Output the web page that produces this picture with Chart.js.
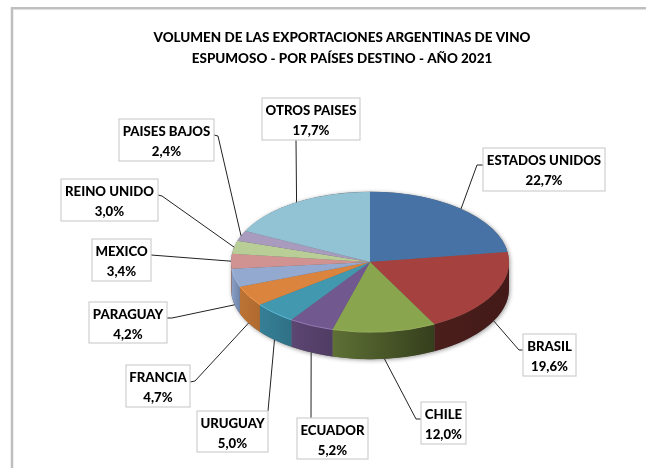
<!DOCTYPE html>
<html>
<head>
<meta charset="utf-8">
<style>html,body{margin:0;padding:0;background:#fff}canvas{display:block}</style>
<script src="https://cdn.jsdelivr.net/npm/chart.js@4"></script>
</head>
<body>
<canvas id="c" width="646" height="468"></canvas>
<script>
const categories = ['ESTADOS UNIDOS','BRASIL','CHILE','ECUADOR','URUGUAY','FRANCIA','PARAGUAY','MEXICO','REINO UNIDO','PAISES BAJOS','OTROS PAISES'];
const shares = [22.7,19.6,12.0,5.2,5.0,4.7,4.2,3.4,3.0,2.4,17.7];
const titleLines = ['VOLUMEN DE LAS EXPORTACIONES ARGENTINAS DE VINO','ESPUMOSO - POR PAÍSES DESTINO - AÑO 2021'];

const faceColors = ['#4672a6','#a5413f','#89a54e','#71588f','#4198af','#db843d','#93a9cf','#d19392','#b9cd96','#a99bbd','#92c3d5'];
const wallLeft   = ['#3a5f8a','#4a1e1b','#5e7035','#5c4672','#367f97','#bc7335','#8aa0c6','#b57f7e','#b9cd96','#a99bbd','#92c3d5'];
const wallRight  = ['#3a5f8a','#431a18','#353f1c','#4f3c64','#2f7186','#b06a2e','#6f84a8','#a87473','#b9cd96','#a99bbd','#92c3d5'];
const rimColors  = [null,null,'#9db45c','#a080c0','#62c6e4','#ff9e50','#a9bfe6',null,null,null,null];
// label boxes: [x, y, w, h]; leader start [x,y] on the box and elbow [x,y]
const boxes = [[483,148,122,43],[523,334,53,42],[421,402,45,42],[297,418,71,41],[197,411,71,41],[126,365,64,42],[89,302,78,41],[92,239,59,42],[61,179,97,42],[119,119,95,42],[262,98,98,42]];
const leaderStarts = [[483,165],[523,350],[421,419],[311,418],[268,411],[190,382],[167,318],[151,255],[158,195],[214,135],[296,140]];
const leaderElbows = [[477,165],[519,350],[416,419],null,null,[195,381],[172,318],null,[162,196],[218,136],null];

const squash = 0.505, depth = 27, titleCenter = 342;
const ff = 'Lato, "Open Sans", sans-serif';

const pie3d = {
  id:'pie3d',
  afterLayout(chart){
    const t = chart.titleBlock;
    t.left = titleCenter - 300; t.right = titleCenter + 300;
  },
  beforeDraw(chart){
    const c = chart.ctx;
    c.save();
    c.strokeStyle = '#bfbfbf'; c.lineWidth = 2.5;
    c.beginPath(); c.moveTo(646,8.2); c.lineTo(12,8.2); c.lineTo(12,468); c.stroke();
    c.restore();
  },
  beforeDatasetsDraw(chart){
    const c = chart.ctx, arcs = chart.getDatasetMeta(0).data;
    const a0 = arcs[0], x = a0.x, y = a0.y, r = a0.outerRadius, ry = r*squash;
    // soft shadow under the body
    c.save();
    c.shadowColor = 'rgba(0,0,0,0.4)'; c.shadowBlur = 4; c.shadowOffsetX = 1; c.shadowOffsetY = 1;
    c.fillStyle = '#666';
    c.beginPath();
    c.ellipse(x,y,r,ry,0,Math.PI,0,false);
    c.ellipse(x,y+depth,r,ry,0,0,Math.PI,false);
    c.closePath(); c.fill();
    c.restore();
    // side walls on the front half
    arcs.forEach((arc,i)=>{
      const s = Math.max(arc.startAngle,0), e = Math.min(arc.endAngle,Math.PI);
      if (e <= s) return;
      const g = c.createLinearGradient(x+r*Math.cos(s),0,x+r*Math.cos(e),0);
      g.addColorStop(0,wallRight[i]); g.addColorStop(1,wallLeft[i]);
      c.fillStyle = g;
      c.beginPath();
      c.ellipse(x,y,r,ry,0,s,e,false);
      c.ellipse(x,y+depth,r,ry,0,e,s,true);
      c.closePath(); c.fill();
    });
    c.save();
    c.translate(x,y); c.scale(1,squash); c.translate(-x,-y);
  },
  afterDatasetsDraw(chart){
    const c = chart.ctx, arcs = chart.getDatasetMeta(0).data;
    c.restore();
    const a0 = arcs[0], x = a0.x, y = a0.y, r = a0.outerRadius, ry = r*squash;
    // light edge on the front rim
    arcs.forEach((arc,i)=>{
      if (!rimColors[i]) return;
      const s = Math.max(arc.startAngle,0), e = Math.min(arc.endAngle,Math.PI);
      if (e <= s) return;
      c.save();
      c.strokeStyle = rimColors[i]; c.lineWidth = 1; c.globalAlpha = 0.8;
      c.beginPath(); c.ellipse(x,y,r,ry,0,s,e,false); c.stroke();
      c.restore();
    });
    // leaders
    c.save();
    c.strokeStyle = '#222'; c.lineWidth = 1;
    arcs.forEach((arc,i)=>{
      const m = (arc.startAngle+arc.endAngle)/2;
      const px = x + r*Math.cos(m);
      const py = y + ry*Math.sin(m) + (Math.sin(m) > 0.02 ? depth : 0);
      c.beginPath();
      c.moveTo(leaderStarts[i][0],leaderStarts[i][1]);
      if (leaderElbows[i]) c.lineTo(leaderElbows[i][0],leaderElbows[i][1]);
      c.lineTo(px,py); c.stroke();
    });
    c.restore();
    // label boxes
    c.save();
    c.textAlign = 'center'; c.textBaseline = 'middle';
    categories.forEach((name,i)=>{
      const b = boxes[i];
      c.fillStyle = '#fff'; c.fillRect(b[0],b[1],b[2],b[3]);
      c.strokeStyle = '#cfcfcf'; c.lineWidth = 1.2; c.strokeRect(b[0],b[1],b[2],b[3]);
      c.fillStyle = '#000';
      c.font = '900 13.2px '+ff;
      const cx = b[0]+b[2]/2;
      c.fillText(name,cx,b[1]+13);
      c.fillText(shares[i].toFixed(1).replace('.',',')+'%',cx,b[1]+33);
    });
    c.restore();
  }
};

new Chart(document.getElementById('c'),{
  type:'pie',
  data:{labels:categories,datasets:[{data:shares,backgroundColor:faceColors,borderWidth:0,clip:false}]},
  options:{
    responsive:false,animation:false,
    layout:{padding:{left:231,right:137,top:0,bottom:48}},
    plugins:{
      legend:{display:false},tooltip:{enabled:false},
      title:{display:true,text:titleLines,color:'#000',font:{family:ff,size:13.45,weight:'900',lineHeight:1.55},padding:{top:27.5,bottom:34.7}}
    }
  },
  plugins:[pie3d]
});
</script>
</body>
</html>
